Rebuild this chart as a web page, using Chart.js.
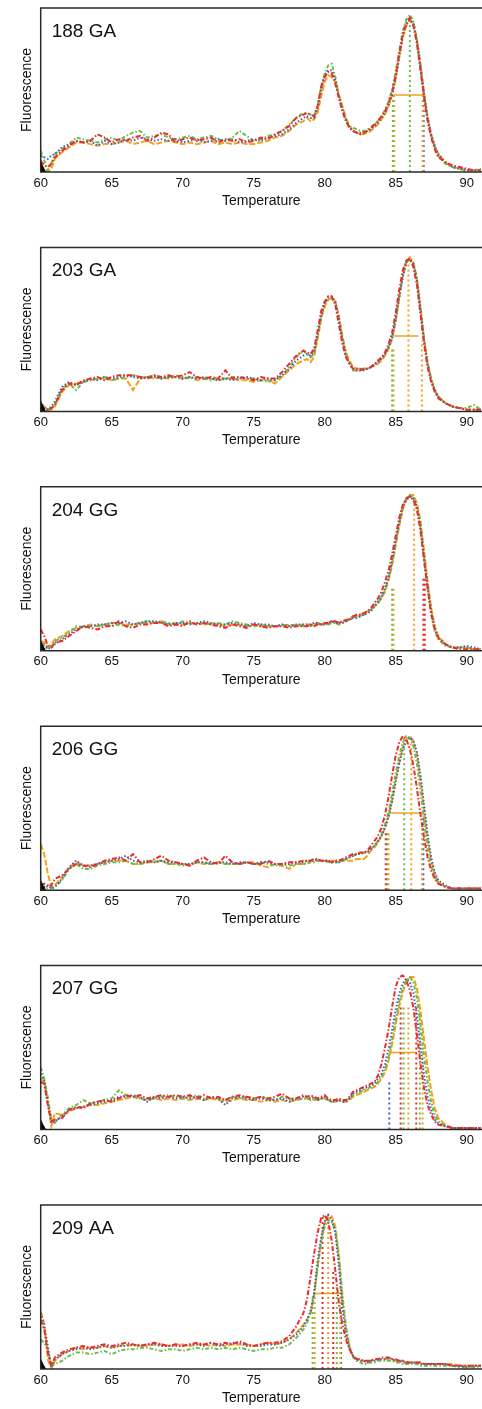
<!DOCTYPE html>
<html>
<head>
<meta charset="utf-8">
<script src="https://cdn.jsdelivr.net/npm/chart.js@4.4.1/dist/chart.umd.min.js"></script>
<style>
  html, body { margin: 0; padding: 0; background: #fff; }
  body { width: 482px; height: 1409px; position: relative; overflow: hidden; }
  .panel { position: absolute; left: 0; width: 482px; height: 240px; }
</style>
</head>
<body>
<script>
(() => {
  'use strict';

  // ===== Datos =====
  const temps = [
    60, 60.25, 60.5, 60.75, 61,
    61.5, 62, 62.5, 63, 63.5, 64, 64.5, 65, 65.5, 66, 66.5, 67, 67.5, 68, 68.5, 69, 69.5, 70,
    70.5, 71, 71.5, 72, 72.5, 73, 73.5, 74, 74.5, 75, 75.5, 76, 76.5, 77, 77.5, 78, 78.5,
    78.75, 79, 79.25, 79.5, 79.75, 80, 80.25, 80.5, 80.75, 81, 81.25, 81.5, 81.75, 82, 82.25,
    82.5, 82.75, 83, 83.25, 83.5, 83.75, 84, 84.25, 84.5, 84.75, 85, 85.25, 85.5, 85.75, 86,
    86.25, 86.5, 86.75, 87, 87.25, 87.5, 87.75, 88,
    88.5, 89, 89.5, 90, 90.5, 91
  ];
  const tickTemps = [60, 65, 70, 75, 80, 85, 90];
  const panelNames = ['188 GA', '203 GA', '204 GG', '206 GG', '207 GG', '209 AA'];

  // esquina negra (control)
  const cornerT = [60, 60.15, 60.35];
  const cornerV = [6, 3, 0];

  // --- 188 GA ---
  const red188 = [7, 4, 3, 5, 9,
    13,16,19,18,19,23,21,18,20,19,21,22,19,21,24,23,18,20,21,19,20,21,18,20,19,20,18,19,21,20,23,25,28,33,35,
    36,35,34,40,52,58,61,60,54,45,37,31,27,25,24,23,24,25,27,29,31,34,37,42,49,59,72,84,91,94,89,78,62,45,31,21,14,9,
    6,4,3,2,1,1];
  const blue188 = [10, 9, 8, 10, 11,
    15,17,19,18,19,16,19,17,18,20,19,21,20,19,20,19,20,18,19,20,18,19,20,19,20,18,19,20,19,21,22,23,26,30,33,
    34,33,33,39,50,59,62,62,56,46,38,31,27,25,24,24,24,25,26,28,30,33,36,41,47,57,70,83,90,93,90,80,64,47,33,23,16,11,
    6,3,2,1,1,1];
  const green188 = [13, 7, 1, 5, 11,
    14,17,21,20,19,18,20,21,19,22,24,25,21,22,23,21,20,21,22,20,21,22,20,19,21,25,22,19,20,22,23,25,29,33,36,
    36,35,34,40,52,60,65,66,58,47,39,32,28,27,26,25,25,26,27,29,31,34,38,43,50,61,74,86,93,96,92,80,63,46,32,22,15,10,
    5,3,2,1,1,2];
  const orange188 = [5, 2, 0, 2, 8,
    12,15,18,18,17,16,17,17,18,19,17,18,19,17,18,19,18,17,18,17,18,19,17,18,17,18,17,17,18,19,21,22,25,29,31,
    33,31,32,36,46,55,59,58,55,47,40,33,28,25,24,23,23,24,25,27,29,32,35,40,47,57,70,82,89,93,91,81,66,49,34,23,16,11,
    6,3,2,1,1,1];
  const marks188 = [['green', 84.8, 47], ['orange', 84.9, 47], ['green', 86.0, 93], ['orange', 86.9, 47], ['blue', 86.97, 47]];
  const width188 = [84.9, 86.9, 47];

  // --- 203 GA ---
  const red203 = [4, 2, 1, 2, 4,
    13,17,16,19,20,21,19,21,22,22,22,21,20,22,21,22,21,22,24,21,20,21,20,25,20,21,20,19,21,20,20,24,29,34,37,
    36,35,38,49,61,67,70,70,65,53,41,33,29,26,25,25,26,26,27,29,31,33,36,41,48,60,74,86,92,93,88,77,59,41,27,18,12,8,
    5,3,2,1,1,1];
  const blue203 = [6, 2, 1, 3, 6,
    15,18,16,18,20,19,21,20,21,22,21,20,21,21,20,21,21,20,21,20,21,20,19,20,19,20,21,20,19,20,19,22,26,31,34,
    35,34,36,47,58,66,70,70,67,57,44,34,29,26,26,26,25,26,27,28,30,32,35,39,45,56,70,82,91,93,90,80,62,43,29,19,13,9,
    5,3,2,1,1,1];
  const green203 = [5, 3, 1, 2, 4,
    14,17,13,18,19,20,21,19,20,21,22,21,21,22,20,21,22,21,20,21,20,19,21,20,21,21,20,20,19,18,19,22,27,33,37,
    35,33,35,46,58,66,69,69,66,56,44,34,30,25,25,25,26,26,27,29,30,32,35,39,45,56,70,83,91,93,90,80,62,43,29,19,13,9,
    5,3,2,2,4,1];
  const orange203 = [4, 3, 1, 1, 3,
    12,16,17,18,19,20,20,19,20,20,13,20,21,20,21,20,21,20,21,19,20,20,19,20,20,19,19,18,19,19,17,21,25,29,31,
    32,30,33,44,56,64,68,69,67,58,46,36,31,27,26,26,26,26,27,28,29,31,34,38,44,55,69,82,91,94,91,81,64,45,30,20,13,9,
    5,3,2,1,1,1];
  const marks203 = [['green', 84.75, 38], ['orange', 84.85, 38], ['orange', 85.9, 93], ['orange', 86.85, 43]];
  const width203 = [84.9, 86.6, 46];

  // --- 204 GG ---
  const red204 = [13, 9, 3, 2, 5,
    6,9,12,15,14,13,15,15,18,15,14,16,16,17,17,15,16,15,18,16,17,16,15,14,16,15,14,16,15,14,15,15,14,15,15,
    15,16,15,16,16,17,17,18,18,17,18,19,19,21,22,22,23,24,26,29,32,36,42,49,59,70,81,89,93,94,92,86,73,55,38,23,13,8,
    4,2,1,1,1,1];
  const blue204 = [5, 3, 1, 2, 4,
    7,10,13,15,15,16,16,17,17,18,16,17,18,18,17,16,17,17,16,17,18,17,16,16,17,16,15,17,16,16,15,16,15,16,16,
    16,16,17,17,16,16,17,18,17,17,17,18,19,20,20,21,22,23,24,27,30,33,38,45,55,67,78,88,92,94,93,88,76,58,40,24,14,8,
    4,2,2,3,2,1];
  const green204 = [5, 4, 2, 3, 6,
    8,11,15,14,15,15,16,15,16,15,16,17,18,17,18,17,16,18,17,16,17,16,17,16,18,17,16,15,16,15,15,16,15,16,15,
    15,15,16,16,16,17,16,17,17,16,17,18,19,20,21,21,22,23,25,27,29,33,37,44,54,66,78,88,93,95,93,87,75,56,38,22,12,7,
    3,2,2,2,1,1];
  const orange204 = [6, 5, 2, 4, 7,
    9,12,14,15,16,15,16,17,17,16,16,17,17,17,18,16,17,16,17,17,16,17,16,15,16,16,15,16,15,15,15,15,16,15,16,
    16,16,16,17,17,16,17,18,18,17,18,18,20,21,21,22,23,24,25,27,29,32,36,43,52,64,76,86,92,95,95,90,79,61,42,26,15,9,
    4,2,2,2,1,1];
  const marks204 = [['green', 84.75, 38], ['orange', 84.85, 38], ['orange', 86.3, 93], ['red', 86.95, 45], ['red', 87.05, 45]];
  const width204 = [];

  // --- 206 GG ---
  const red206 = [3, 4, 2, 3, 7,
    9,13,16,15,14,16,18,19,20,18,22,17,17,19,21,18,17,16,15,18,20,17,16,21,17,16,17,16,16,18,16,16,17,17,18,
    18,18,19,19,18,18,18,17,18,18,19,20,21,22,22,23,23,24,27,30,33,38,46,57,70,82,90,94,92,86,76,62,46,32,20,12,7,4,
    2,1,1,1,1,1];
  const blue206 = [3, 2, 3, 1, 2,
    7,14,18,15,15,16,17,18,19,21,18,17,18,17,18,17,17,16,16,17,17,16,17,17,16,17,17,16,17,17,16,16,16,17,17,
    18,18,18,19,18,18,18,17,17,17,18,19,20,21,22,22,23,23,25,27,30,33,38,45,54,66,77,86,91,93,91,84,70,52,34,20,11,6,
    3,1,1,1,1,1];
  const green206 = [2, 2, 1, 1, 2,
    6,13,16,13,13,15,16,17,17,18,16,16,17,18,18,16,16,15,16,17,17,16,17,16,16,16,17,16,17,16,15,15,15,16,16,
    16,17,17,18,18,18,17,17,17,17,18,19,20,21,22,22,23,23,25,27,30,34,40,48,59,71,82,90,94,93,88,77,60,42,25,15,8,4,
    2,1,1,1,1,1];
  const orange206 = [28, 22, 10, 2, 3,
    8,14,17,15,15,16,17,18,18,18,16,16,17,17,18,16,16,16,15,17,16,16,17,16,16,16,17,17,15,14,16,15,13,16,16,
    17,18,18,18,18,18,18,18,18,18,18,18,18,18,19,19,19,21,24,26,29,33,38,45,55,67,78,87,92,94,91,83,67,49,31,18,10,5,
    2,1,1,1,1,1];
  const marks206 = [['red', 84.3, 36], ['green', 84.4, 36], ['orange', 84.5, 36], ['green', 85.6, 93], ['orange', 86.1, 93], ['orange', 86.85, 46], ['blue', 86.95, 46]];
  const width206 = [84.5, 86.85, 47];

  // --- 207 GG ---
  const red207 = [29, 28, 15, 5, 6,
    7,12,14,13,16,17,18,17,19,21,20,21,19,20,21,20,21,20,21,19,21,19,20,18,20,21,20,19,20,19,20,22,19,19,21,
    20,21,20,19,20,21,19,18,18,19,18,18,20,23,24,25,26,27,28,29,33,40,50,61,75,87,93,94,91,85,74,58,40,25,15,9,5,3,
    2,1,1,1,1,1];
  const blue207 = [34, 30, 16, 4, 5,
    8,12,13,14,15,16,17,18,20,20,21,20,17,20,19,20,19,20,19,20,18,20,19,15,19,20,19,18,19,18,18,19,17,19,20,
    20,19,20,18,19,20,18,17,17,18,17,17,19,22,23,24,25,26,27,28,31,34,40,49,61,73,83,89,92,90,83,69,51,33,20,12,6,4,
    2,1,1,1,1,1];
  const green207 = [38, 31, 20, 6, 4,
    9,13,15,18,16,17,18,19,24,21,20,19,18,19,20,21,20,19,20,21,19,20,19,18,20,19,20,19,20,19,18,20,19,18,19,
    19,18,19,18,19,19,18,17,18,18,17,18,19,21,22,23,24,25,26,27,29,32,37,44,55,67,78,86,91,93,90,80,64,45,29,17,9,5,
    2,1,1,1,1,1];
  const orange207 = [31, 29, 17, 2, 10,
    9,11,13,14,15,15,16,17,18,19,20,19,18,19,18,19,18,19,18,19,18,19,18,17,18,19,18,18,17,18,17,18,17,18,19,
    19,19,18,18,19,19,18,17,17,18,17,17,18,20,21,22,23,24,25,26,28,31,35,42,52,64,75,84,90,93,93,86,72,55,38,24,13,7,
    3,1,1,1,1,1];
  const marks207 = [['blue', 84.55, 30], ['red', 85.35, 75], ['green', 85.55, 75], ['orange', 85.9, 75], ['red', 86.45, 75], ['green', 86.7, 75], ['orange', 86.9, 60]];
  const width207 = [84.6, 86.5, 47];

  // --- 209 AA ---
  const red209 = [30, 24, 10, 2, 7,
    10,12,13,14,13,14,15,14,15,16,15,14,15,16,15,14,15,14,15,16,15,16,15,16,15,17,15,14,15,16,16,17,20,26,34,
    42,56,70,83,92,94,90,78,60,40,27,18,12,8,6,6,5,5,5,6,6,7,7,7,6,6,5,5,4,4,4,4,4,3,3,3,3,3,
    3,2,2,2,2,2];
  const blue209 = [34, 26, 14, 1, 6,
    9,11,12,13,12,13,14,13,14,14,15,14,15,15,14,14,14,14,15,15,14,16,14,15,16,16,14,14,14,15,15,16,18,21,26,
    30,35,46,66,80,90,94,91,83,63,37,21,12,8,6,5,5,4,5,5,6,6,6,7,6,5,5,4,4,4,4,4,3,3,3,3,3,3,
    3,2,2,1,2,2];
  const green209 = [18, 16, 12, 2, 3,
    5,8,10,10,9,10,11,9,11,12,12,13,13,12,11,12,12,11,12,13,12,13,12,13,12,13,12,11,12,12,13,13,15,19,24,
    28,34,45,62,77,87,91,90,84,68,45,26,14,7,5,4,3,3,4,4,5,5,5,5,5,4,4,3,3,3,3,3,2,2,2,2,2,2,
    2,2,1,1,1,1];
  const orange209 = [35, 28, 6, 0, 5,
    9,11,13,12,13,13,14,13,14,15,14,15,14,15,15,14,15,15,14,15,15,14,15,14,15,15,15,14,15,16,15,16,18,22,27,
    30,34,44,62,78,89,94,93,87,70,42,24,13,8,6,5,5,4,5,6,6,6,6,6,6,5,5,5,4,4,4,4,4,3,3,3,3,3,
    3,3,2,2,2,2];
  const marks209 = [['green', 79.15, 45], ['orange', 79.3, 45], ['red', 79.85, 94], ['orange', 80.25, 94], ['red', 80.6, 60], ['green', 80.85, 50], ['orange', 81.1, 50], ['blue', 81.15, 45]];
  const width209 = [79.2, 81.2, 46];

  // ===== Estilos =====
  const FONT = '"Liberation Sans", Arial, Helvetica, sans-serif';
  const colors = { red: '#ee2b2b', blue: '#4262b8', green: '#6cbf46', orange: '#f6a11c' };
  const dashes = { red: [5, 2, 1.5, 2], blue: [1.5, 2], green: [4, 2, 1.5, 2], orange: [6, 2] };
  const order  = ['red', 'blue', 'green', 'orange'];

  const panels = [
    { series: [red188, blue188, green188, orange188], marks: marks188, width: width188 },
    { series: [red203, blue203, green203, orange203], marks: marks203, width: width203 },
    { series: [red204, blue204, green204, orange204], marks: marks204, width: width204 },
    { series: [red206, blue206, green206, orange206], marks: marks206, width: width206 },
    { series: [red207, blue207, green207, orange207], marks: marks207, width: width207 },
    { series: [red209, blue209, green209, orange209], marks: marks209, width: width209 }
  ];

  const PANEL_STEP = 239.4;

  // marco (izq, arriba, abajo) + nombre de la muestra
  const framePlugin = {
    id: 'frame',
    afterDatasetsDraw(chart, args, opts) {
      const { ctx, chartArea: a } = chart;
      ctx.save();
      ctx.strokeStyle = '#2a2a2a';
      ctx.lineWidth = 1.5;
      ctx.beginPath();
      ctx.moveTo(a.right + 2, a.top);
      ctx.lineTo(a.left, a.top);
      ctx.lineTo(a.left, a.bottom);
      ctx.lineTo(a.right + 2, a.bottom);
      ctx.stroke();
      ctx.fillStyle = '#111';
      ctx.font = '19px ' + FONT;
      ctx.textBaseline = 'alphabetic';
      ctx.fillText(opts.label, a.left + 11, a.top + 28.7);
      ctx.restore();
    }
  };

  function makePanel(p, k) {
    const topAbs = k * PANEL_STEP;
    const top = Math.round(topAbs);
    const frac = topAbs - top;

    const div = document.createElement('div');
    div.className = 'panel';
    div.style.top = top + 'px';
    const c = document.createElement('canvas');
    c.width = 482; c.height = 240;
    div.appendChild(c);
    document.body.appendChild(div);

    const datasets = [];
    datasets.push({
      data: cornerT.map((t, i) => ({ x: t, y: cornerV[i] })),
      borderColor: '#000', backgroundColor: '#000', borderWidth: 1, fill: 'origin', pointRadius: 0
    });
    p.series.forEach((vals, i) => {
      const key = order[i];
      datasets.push({
        data: temps.map((t, j) => ({ x: t, y: vals[j] })),
        borderColor: colors[key], borderWidth: 2, borderDash: dashes[key],
        pointRadius: 0, tension: 0, fill: false
      });
    });
    p.marks.forEach(([key, t, h]) => {
      datasets.push({
        data: [{ x: t, y: 0 }, { x: t, y: h }],
        borderColor: colors[key], borderWidth: 2, borderDash: [2, 3], pointRadius: 0, fill: false
      });
    });
    if (p.width.length) {
      const [t1, t2, h] = p.width;
      datasets.push({
        data: [{ x: t1, y: h }, { x: t2, y: h }],
        borderColor: colors.orange, borderWidth: 1.5, pointRadius: 0, fill: false
      });
    }

    return new Chart(c.getContext('2d'), {
      type: 'line',
      data: { datasets },
      plugins: [framePlugin],
      options: {
        responsive: false,
        animation: false,
        devicePixelRatio: 1,
        layout: { padding: { left: 14, top: 8 + frac, right: 0, bottom: 27 - frac } },
        plugins: {
          legend: { display: false },
          tooltip: { enabled: false },
          frame: { label: panelNames[k] }
        },
        scales: {
          x: {
            type: 'linear', min: 60, max: 91.08,
            grid: { display: false, drawTicks: false },
            border: { display: false },
            afterBuildTicks: (s) => { s.ticks = tickTemps.map(v => ({ value: v })); },
            afterFit: (s) => { s.paddingRight = 0; },
            ticks: { font: { family: FONT, size: 13 }, color: '#111', padding: 3.2, maxRotation: 0, autoSkip: false },
            title: { display: true, text: 'Temperature', color: '#111', font: { family: FONT, size: 14, lineHeight: 1 }, padding: { top: 0, bottom: 5 } }
          },
          y: {
            min: 0, max: 100,
            grid: { display: false, drawTicks: false },
            border: { display: false },
            ticks: { display: false },
            title: { display: true, text: 'Fluorescence', color: '#111', font: { family: FONT, size: 14 }, padding: { top: 4.6, bottom: 5.3 } }
          }
        }
      }
    });
  }

  panels.forEach(makePanel);

  // control de longitudes
  const bad = [];
  panels.forEach((p, k) => p.series.forEach((s, i) => {
    if (s.length !== temps.length) bad.push(panelNames[k] + ' ' + order[i] + ':' + s.length);
  }));
  if (bad.length) throw new Error('length mismatch ' + bad.join(', '));
})();
</script>
</body>
</html>
